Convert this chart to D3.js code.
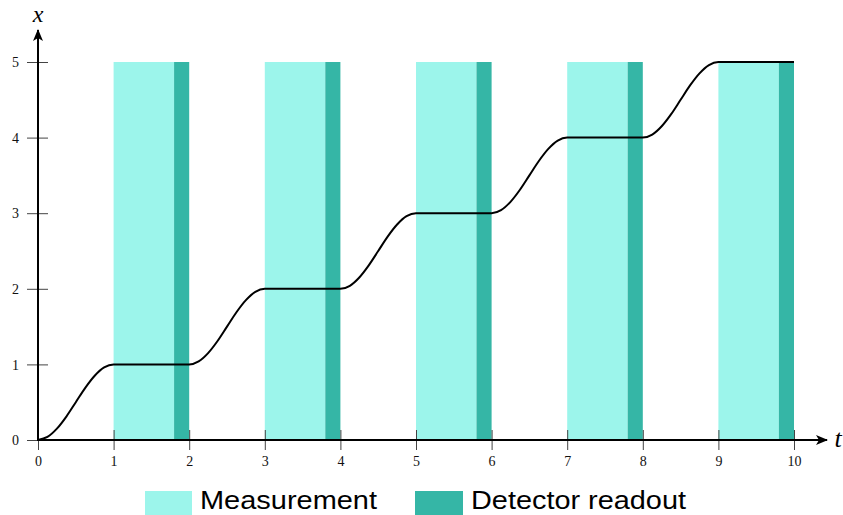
<!DOCTYPE html>
<html>
<head>
<meta charset="utf-8">
<script src="https://cdn.jsdelivr.net/npm/d3@7"></script>
<style>
  html, body { margin: 0; padding: 0; background: #fff; }
  svg { display: block; }
</style>
</head>
<body>
<svg id="chart" width="843" height="515"></svg>
<script>
// ---- data ----
const tTicks = [0, 1, 2, 3, 4, 5, 6, 7, 8, 9, 10];
const xTicks = [0, 1, 2, 3, 4, 5];

// measurement windows [start, end] and detector readout windows [start, end]
const measurement = [[1, 1.8], [3, 3.8], [5, 5.8], [7, 7.8], [9, 9.8]];
const readout = [[1.8, 2], [3.8, 4], [5.8, 6], [7.8, 8], [9.8, 10]];
const barTop = 5;

// trajectory x(t)
const curveT = [
  0, 0.125, 0.25, 0.375, 0.5, 0.625, 0.75, 0.875, 1,
  2, 2.125, 2.25, 2.375, 2.5, 2.625, 2.75, 2.875, 3,
  4, 4.125, 4.25, 4.375, 4.5, 4.625, 4.75, 4.875, 5,
  6, 6.125, 6.25, 6.375, 6.5, 6.625, 6.75, 6.875, 7,
  8, 8.125, 8.25, 8.375, 8.5, 8.625, 8.75, 8.875, 9,
  10
];
const curveX = [
  0, 0.04, 0.15, 0.31, 0.5, 0.69, 0.85, 0.96, 1,
  1, 1.04, 1.15, 1.31, 1.5, 1.69, 1.85, 1.96, 2,
  2, 2.04, 2.15, 2.31, 2.5, 2.69, 2.85, 2.96, 3,
  3, 3.04, 3.15, 3.31, 3.5, 3.69, 3.85, 3.96, 4,
  4, 4.04, 4.15, 4.31, 4.5, 4.69, 4.85, 4.96, 5,
  5
];

const legendItems = ["Measurement", "Detector readout"];
const colMeas = "#9cf5eb";
const colRead = "#35b6a6";

// ---- chart ----
const svg = d3.select("#chart");
const xS = d3.scaleLinear().domain([0, 10]).range([38, 794]);
const yS = d3.scaleLinear().domain([0, 5]).range([440, 62]);

// bars
svg.append("g").selectAll("rect").data(measurement).join("rect")
  .attr("x", d => xS(d[0])).attr("width", d => xS(d[1]) - xS(d[0]))
  .attr("y", yS(barTop)).attr("height", yS(0) - yS(barTop))
  .attr("fill", colMeas);
svg.append("g").selectAll("rect").data(readout).join("rect")
  .attr("x", d => xS(d[0])).attr("width", d => xS(d[1]) - xS(d[0]))
  .attr("y", yS(barTop)).attr("height", yS(0) - yS(barTop))
  .attr("fill", colRead);

// ticks
const serif = "'Liberation Serif', 'DejaVu Serif', serif";
const xAxis = d3.axisBottom(xS).tickValues(tTicks).tickSize(0).tickPadding(0).tickFormat(d3.format("d"));
const gx = svg.append("g").attr("transform", `translate(0,${yS(0)})`).call(xAxis);
gx.select(".domain").remove();
gx.selectAll(".tick line").attr("y1", -10).attr("y2", 10).attr("stroke", "#444").attr("stroke-width", 1);
gx.selectAll(".tick text").attr("y", 16).attr("dy", "0.71em")
  .attr("font-family", serif).attr("font-size", 14).attr("fill", "#111");

const yAxis = d3.axisLeft(yS).tickValues(xTicks).tickSize(0).tickPadding(0).tickFormat(d3.format("d"));
const gy = svg.append("g").attr("transform", `translate(${xS(0)},0)`).call(yAxis);
gy.select(".domain").remove();
gy.selectAll(".tick line").attr("x1", -11).attr("x2", 10).attr("stroke", "#444").attr("stroke-width", 1);
gy.selectAll(".tick text").attr("x", -19).attr("dy", "0.34em")
  .attr("font-family", serif).attr("font-size", 14).attr("fill", "#111");

// main axis lines with arrowheads
const defs = svg.append("defs");
defs.append("marker").attr("id", "arr").attr("viewBox", "0 0 12 10")
  .attr("refX", 11).attr("refY", 5).attr("markerWidth", 12).attr("markerHeight", 10)
  .attr("markerUnits", "userSpaceOnUse").attr("orient", "auto")
  .append("path").attr("d", "M0,0 L12,5 L0,10 L3,5 Z").attr("fill", "#000");

svg.append("line").attr("x1", xS(0)).attr("y1", yS(0)).attr("x2", 827).attr("y2", yS(0))
  .attr("stroke", "#000").attr("stroke-width", 2).attr("marker-end", "url(#arr)");
svg.append("line").attr("x1", xS(0)).attr("y1", yS(0) + 1).attr("x2", xS(0)).attr("y2", 30)
  .attr("stroke", "#000").attr("stroke-width", 2).attr("marker-end", "url(#arr)");

svg.append("text").attr("x", 838).attr("y", 447).attr("text-anchor", "middle")
  .attr("font-family", serif).attr("font-style", "italic").attr("font-size", 26).text("t");
svg.append("text").attr("x", 38).attr("y", 22).attr("text-anchor", "middle")
  .attr("font-family", serif).attr("font-style", "italic").attr("font-size", 24).text("x");

// curve
const pts = curveT.map((t, i) => [t, curveX[i]]);
const line = d3.line().x(d => xS(d[0])).y(d => yS(d[1])).curve(d3.curveMonotoneX);
svg.append("path").datum(pts).attr("d", line)
  .attr("fill", "none").attr("stroke", "#000").attr("stroke-width", 2);

// legend
const sans = "'Liberation Sans', Arial, sans-serif";
const legX = [145, 415];
const legW = [47, 48];
const legTextW = [177, 215];
const lg = svg.append("g");
legendItems.forEach((name, i) => {
  lg.append("rect").attr("x", legX[i]).attr("y", 491).attr("width", legW[i]).attr("height", 24)
    .attr("fill", i === 0 ? colMeas : colRead);
  lg.append("text").attr("x", legX[i] + legW[i] + 8).attr("y", 509)
    .attr("font-family", sans).attr("font-size", 26).attr("fill", "#000")
    .attr("textLength", legTextW[i]).attr("lengthAdjust", "spacingAndGlyphs").text(name);
});
</script>
</body>
</html>
